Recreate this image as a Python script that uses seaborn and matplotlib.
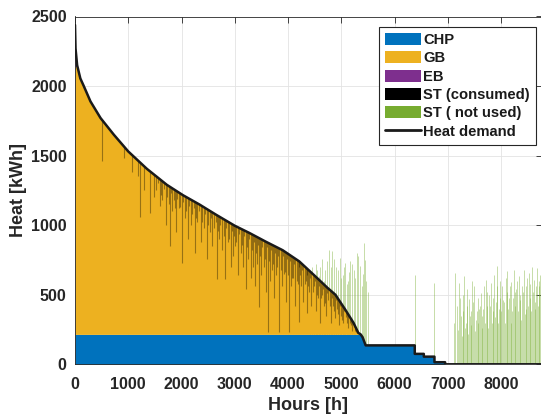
import numpy as np
import matplotlib
matplotlib.use("Agg")
import matplotlib.pyplot as plt
from matplotlib.patches import Patch
from matplotlib.lines import Line2D
import seaborn as sns

# ---------------- data ----------------
hours = [0, 10, 40, 100, 165, 290, 480, 730, 1000, 1350, 1725, 2030, 2340, 2650,
         3000, 3280, 3590, 3900, 4210, 4430, 4580, 4740, 4890, 5075, 5230, 5320,
         5364, 5400, 5458, 6380, 6380, 6550, 6550, 6750, 6750, 6950, 6950, 8760]
demand = [2440, 2270, 2150, 2055, 2000, 1890, 1770, 1650, 1530, 1405, 1290, 1215,
          1148, 1075, 996, 943, 880, 820, 740, 662, 608, 550, 500, 393, 298, 226,
          215, 195, 136, 136, 75, 75, 55, 55, 15, 15, 0, 0]
chp = [215, 215, 215, 215, 215, 215, 215, 215, 215, 215, 215, 215, 215, 215,
       215, 215, 215, 215, 215, 215, 215, 215, 215, 215, 215, 215,
       215, 195, 136, 136, 75, 75, 55, 55, 15, 15, 0, 0]
gb_capacity = 2140  # CHP + GB upper limit; EB covers the rest in the first hours

# ST (consumed): hour and lower end of each spike (spike reaches up to demand)
st_used_hours = [505, 920, 1065, 1180, 1220, 1300, 1410, 1480, 1590, 1640, 1700,
                 1780, 1830, 1900, 1950, 2000, 2060, 2120, 2180, 2250, 2300, 2360,
                 2420, 2470, 2530, 2580, 2660, 2700, 2760, 2810, 2870, 2920, 2960,
                 3010, 3060, 3110, 3160, 3210, 3250, 3300, 3340, 3380, 3420, 3460,
                 3500, 3540, 3580, 3620, 3660, 3700, 3740, 3780, 3840, 3880, 3920,
                 3960, 4020, 4060, 4100, 4140, 4180, 4210, 4250, 4290, 4330, 4360,
                 4400, 4440, 4480, 4520, 4560, 4600, 4640, 4680, 4720, 4760, 4800,
                 4840, 4880, 4920, 4960, 5000, 5040, 5080, 5120, 5160, 5200, 5240,
                 5280,
                 1520, 1560, 1610, 1670, 1730, 1760, 1810, 1860, 1880, 1920, 1980,
                 2020, 2090, 2150, 2200, 2230, 2280, 2330, 2390, 2440, 2500, 2550,
                 2610, 2640, 2690, 2730, 2790, 2840, 2890, 2940, 2990, 3030, 3080,
                 3130, 3180, 3230, 3270, 3320, 3360, 3400, 3440, 3480, 3520, 3560,
                 3600, 3640, 3680, 3720, 3760, 3800, 3820, 3860, 3900, 3940, 3980,
                 4000, 4040, 4080, 4120, 4160, 4200, 4230, 4270, 4310, 4350, 4380,
                 4420, 4460, 4500, 4540, 4580, 4620, 4660, 4700, 4740, 4780, 4820,
                 4860, 4900, 4940, 4980, 5020, 5060, 5100, 5140, 5180, 5220, 5260,
                 5300]
st_used_bottom = [1460, 1480, 1380, 1350, 1062, 1250, 1089, 1200, 1137, 1180, 1000,
                  847, 1100, 950, 1120, 730, 1050, 900, 1000, 802, 1020, 880,
                  980, 755, 950, 850, 612, 900, 820, 612, 880, 700, 780,
                  850, 640, 800, 700, 540, 760, 620, 700, 560, 720, 410,
                  640, 700, 520, 230, 600, 680, 480, 640, 230, 560, 650,
                  450, 230, 560, 620, 420, 580, 302, 560, 450, 600, 370,
                  520, 420, 560, 380, 480, 300, 500, 420, 350, 460, 300,
                  420, 330, 400, 280, 350, 300, 340, 260, 300, 240, 270,
                  230,
                  1250, 1300, 1220, 1260, 1200, 1150, 1230, 1180, 1120, 1190, 1130,
                  1170, 1100, 1140, 1080, 1120, 1050, 1100, 1020, 1080, 1000, 1050,
                  980, 1020, 960, 1000, 920, 980, 900, 960, 920, 880, 940,
                  860, 920, 840, 900, 820, 880, 800, 860, 780, 840, 760,
                  840, 740, 820, 720, 800, 700, 780, 680, 780, 660, 760,
                  640, 740, 620, 720, 600, 700, 640, 680, 580, 640, 560,
                  620, 520, 600, 500, 560, 480, 540, 440, 510, 420, 480,
                  380, 460, 360, 420, 320, 380, 300, 340, 280, 290, 240,
                  225]

# ST (not used): hour and upper end of each spike
st_unused_hours = [4420, 4450, 4480, 4520, 4550, 4580, 4610, 4640, 4670, 4700, 4730,
                   4770, 4800, 4830, 4860, 4900, 4940, 4980, 5000, 5030, 5050, 5075,
                   5100, 5120, 5150, 5170, 5200, 5230, 5260, 5290, 5320, 5350, 5380,
                   5400, 5430, 5455, 5470, 5500, 6380, 6750,
                   7120, 7140, 7170, 7190, 7215, 7230, 7250, 7265, 7280, 7295, 7310,
                   7325, 7340, 7355, 7370, 7385, 7400, 7415, 7430, 7445, 7460, 7475,
                   7495, 7510, 7530, 7545, 7560, 7575, 7590, 7605, 7620, 7635, 7650,
                   7665, 7680, 7700, 7715, 7730, 7745, 7760, 7780, 7795, 7810, 7825,
                   7840, 7855, 7870, 7885, 7900, 7915, 7930, 7945, 7960, 7975, 7990,
                   8005, 8025, 8040, 8055, 8070, 8090, 8105, 8120, 8135, 8150, 8165,
                   8180, 8195, 8210, 8225, 8240, 8255, 8270, 8285, 8300, 8315, 8335,
                   8350, 8365, 8380, 8400, 8415, 8430, 8445, 8460, 8475, 8490, 8505,
                   8520, 8535, 8550, 8565, 8580, 8595, 8615, 8630, 8645, 8660, 8675,
                   8690, 8705, 8720, 8735, 8745, 8755]
st_unused_top = [650, 700, 560, 720, 680, 632, 700, 760, 600, 680, 740,
                 823, 700, 811, 760, 700, 680, 763, 620, 640, 700, 727,
                 580, 600, 660, 739, 720, 680, 620, 799, 780, 703, 560,
                 650, 870, 751, 600, 520, 645, 585,
                 300, 656, 420, 250, 585, 480, 350, 200, 500, 380, 633,
                 260, 300, 420, 540, 220, 466, 350, 380, 280, 600, 450,
                 561, 240, 320, 380, 480, 300, 400, 420, 514, 260, 350,
                 400, 560, 300, 609, 520, 420, 260, 500, 420, 585, 300,
                 380, 480, 640, 340, 450, 560, 705, 300, 400, 480, 600,
                 380, 561, 460, 450, 300, 620, 520, 668, 400, 480, 560,
                 590, 300, 380, 480, 680, 420, 520, 540, 600, 380, 633,
                 500, 460, 320, 560, 520, 680, 360, 400, 560, 620, 420,
                 656, 580, 480, 380, 700, 520, 609, 400, 450, 560, 690,
                 420, 560, 600, 640, 380, 500]

labels = ["CHP", "GB", "EB", "ST (consumed)", "ST ( not used)", "Heat demand"]
x_ticks = [0, 1000, 2000, 3000, 4000, 5000, 6000, 7000, 8000]
y_ticks = [0, 500, 1000, 1500, 2000, 2500]

# ---------------- style ----------------
C_CHP = "#0072BD"
C_GB = "#EDB120"
C_EB = "#7E2F8E"
C_STU = "#000000"
C_STN = "#77AC30"
AX_COL = "#262626"

sns.set_theme(style="white")
plt.rcParams["font.family"] = ["Liberation Sans", "DejaVu Sans"]
plt.rcParams["font.weight"] = "bold"

W, H = 541, 417
fig = plt.figure(figsize=(W / 100, H / 100), dpi=100)
ax = fig.add_axes([75 / W, (H - 364.3) / H, (541.5 - 75) / W, (364.3 - 16.5) / H])

h = np.array(hours, dtype=float)
d = np.array(demand, dtype=float)
c = np.array(chp, dtype=float)
gb_top = np.minimum(d, gb_capacity)

# unused solar thermal (behind the stack)
ax.vlines(st_unused_hours, 0, st_unused_top, color=C_STN, lw=0.7, alpha=0.42, zorder=1)

ax.fill_between(h, 0, c, color=C_CHP, lw=0, zorder=2)
gb_poly = ax.fill_between(h, c, gb_top, color=C_GB, lw=0, zorder=2)
ax.fill_between(h, gb_top, d, color=C_EB, lw=0, zorder=2)

spikes = ax.vlines(st_used_hours, st_used_bottom, 2500, color=C_STU, lw=0.8,
                   alpha=0.36, zorder=3)
spikes.set_clip_path(gb_poly.get_paths()[0], transform=ax.transData)

sns.lineplot(x=hours, y=demand, color="k", lw=1.8, estimator=None, sort=False,
             ax=ax, zorder=4, legend=False)

ax.set_xlim(0, 8760)
ax.set_ylim(0, 2500)
ax.set_xticks(x_ticks)
ax.set_yticks(y_ticks)
ax.set_xticklabels([str(t) for t in x_ticks])
ax.set_yticklabels([str(t) for t in y_ticks])
ax.tick_params(direction="in", length=4, width=0.6, top=True, right=True,
               colors=AX_COL, labelsize=11.5)
ax.tick_params(axis="x", pad=9)
ax.tick_params(axis="y", pad=6)
for lab in ax.get_xticklabels() + ax.get_yticklabels():
    lab.set_fontweight("bold")
ax.grid(True, color="#e3e3e3", lw=0.6)
ax.set_axisbelow(True)
for s in ax.spines.values():
    s.set_color(AX_COL)
    s.set_linewidth(0.6)

ax.set_xlabel("Hours [h]", fontsize=13, fontweight="bold", color=AX_COL, labelpad=4)
ax.set_ylabel("Heat [kWh]", fontsize=13, fontweight="bold", color=AX_COL, labelpad=3)

handles = [Patch(fc=C_CHP, ec="none"), Patch(fc=C_GB, ec="none"),
           Patch(fc=C_EB, ec="none"), Patch(fc=C_STU, ec="none"),
           Patch(fc=C_STN, ec="none"), Line2D([], [], color="k", lw=2)]
leg = ax.legend(handles, labels, loc="upper right",
                bbox_to_anchor=(536 / W, 1 - 27 / H), bbox_transform=fig.transFigure,
                frameon=True, fancybox=False, framealpha=1, edgecolor=AX_COL,
                prop={"weight": "bold", "size": 10.6}, handlelength=2.4,
                handleheight=0.9, handletextpad=0.2, labelspacing=0.28,
                borderpad=0.4, borderaxespad=0)
leg.get_frame().set_linewidth(0.8)
for t in leg.get_texts():
    t.set_color("k")

fig.savefig("out.png", dpi=100)
